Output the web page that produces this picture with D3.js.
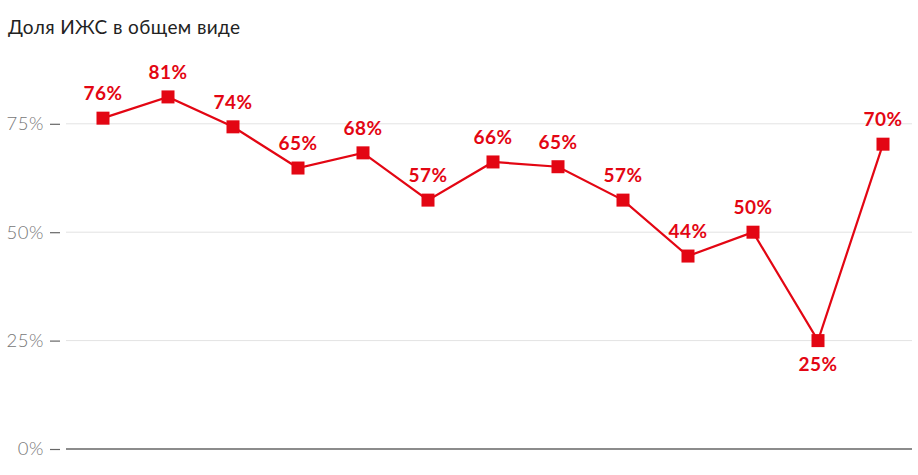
<!DOCTYPE html>
<html><head><meta charset="utf-8">
<script src="https://cdn.jsdelivr.net/npm/d3@7"></script>
<style>body{margin:0;background:#fff}svg{display:block}</style>
</head><body>
<svg id="c" width="918" height="475"></svg>
<script>
const categories = ["1","2","3","4","5","6","7","8","9","10","11","12","13"];
const values = [76.3, 81.2, 74.3, 64.8, 68.3, 57.4, 66.2, 65.1, 57.4, 44.5, 50.0, 25.0, 70.3];
const labels = ["76%","81%","74%","65%","68%","57%","66%","65%","57%","44%","50%","25%","70%"];
const labelBelow = [false,false,false,false,false,false,false,false,false,false,false,true,false];
const yTicks = [0, 25, 50, 75];
const title = "Доля ИЖС в общем виде";

const svg = d3.select("#c");
const red = "#e30613";
const font = "Lato, 'Open Sans', sans-serif";
const x = d3.scalePoint().domain(categories).range([103, 883]);
const y = d3.scaleLinear().domain([0, 100]).range([449, 15.4]);

svg.append("text").attr("x", 8).attr("y", 34).text(title)
  .attr("font-family", font).attr("font-size", 19).attr("letter-spacing", 0.4).attr("fill", "#222");

const yAxis = d3.axisLeft(y).tickValues(yTicks).tickFormat(d => d + "%").tickSize(10).tickPadding(6);
const ga = svg.append("g").attr("transform", "translate(60,0)").call(yAxis);
ga.select(".domain").remove();
ga.selectAll(".tick line").attr("stroke", "#666").attr("stroke-width", 1.2);
ga.selectAll(".tick text").attr("font-family", font).attr("font-size", 18.5).attr("letter-spacing", 0.5)
  .attr("font-weight", 300).attr("fill", "#777");

svg.append("g").selectAll("line").data(yTicks).join("line")
  .attr("x1", 66).attr("x2", 912).attr("y1", d => y(d)).attr("y2", d => y(d))
  .attr("stroke", d => d === 0 ? "#666" : "#e3e3e3").attr("stroke-width", d => d === 0 ? 1.5 : 1);

const data = categories.map((c, i) => ({c, v: values[i], l: labels[i], b: labelBelow[i]}));
svg.append("path").datum(data)
  .attr("d", d3.line().x(d => x(d.c)).y(d => y(d.v)))
  .attr("fill", "none").attr("stroke", red).attr("stroke-width", 2.2);

svg.append("g").selectAll("rect").data(data).join("rect")
  .attr("x", d => x(d.c) - 6.5).attr("y", d => y(d.v) - 6.5)
  .attr("width", 13).attr("height", 13).attr("fill", red);

svg.append("g").selectAll("text").data(data).join("text")
  .attr("x", d => x(d.c)).attr("y", d => d.b ? y(d.v) + 30 : y(d.v) - 18)
  .attr("text-anchor", "middle").text(d => d.l)
  .attr("font-family", font).attr("font-size", 19).attr("letter-spacing", 0.4).attr("font-weight", 700).attr("fill", red);
</script>
</body></html>
